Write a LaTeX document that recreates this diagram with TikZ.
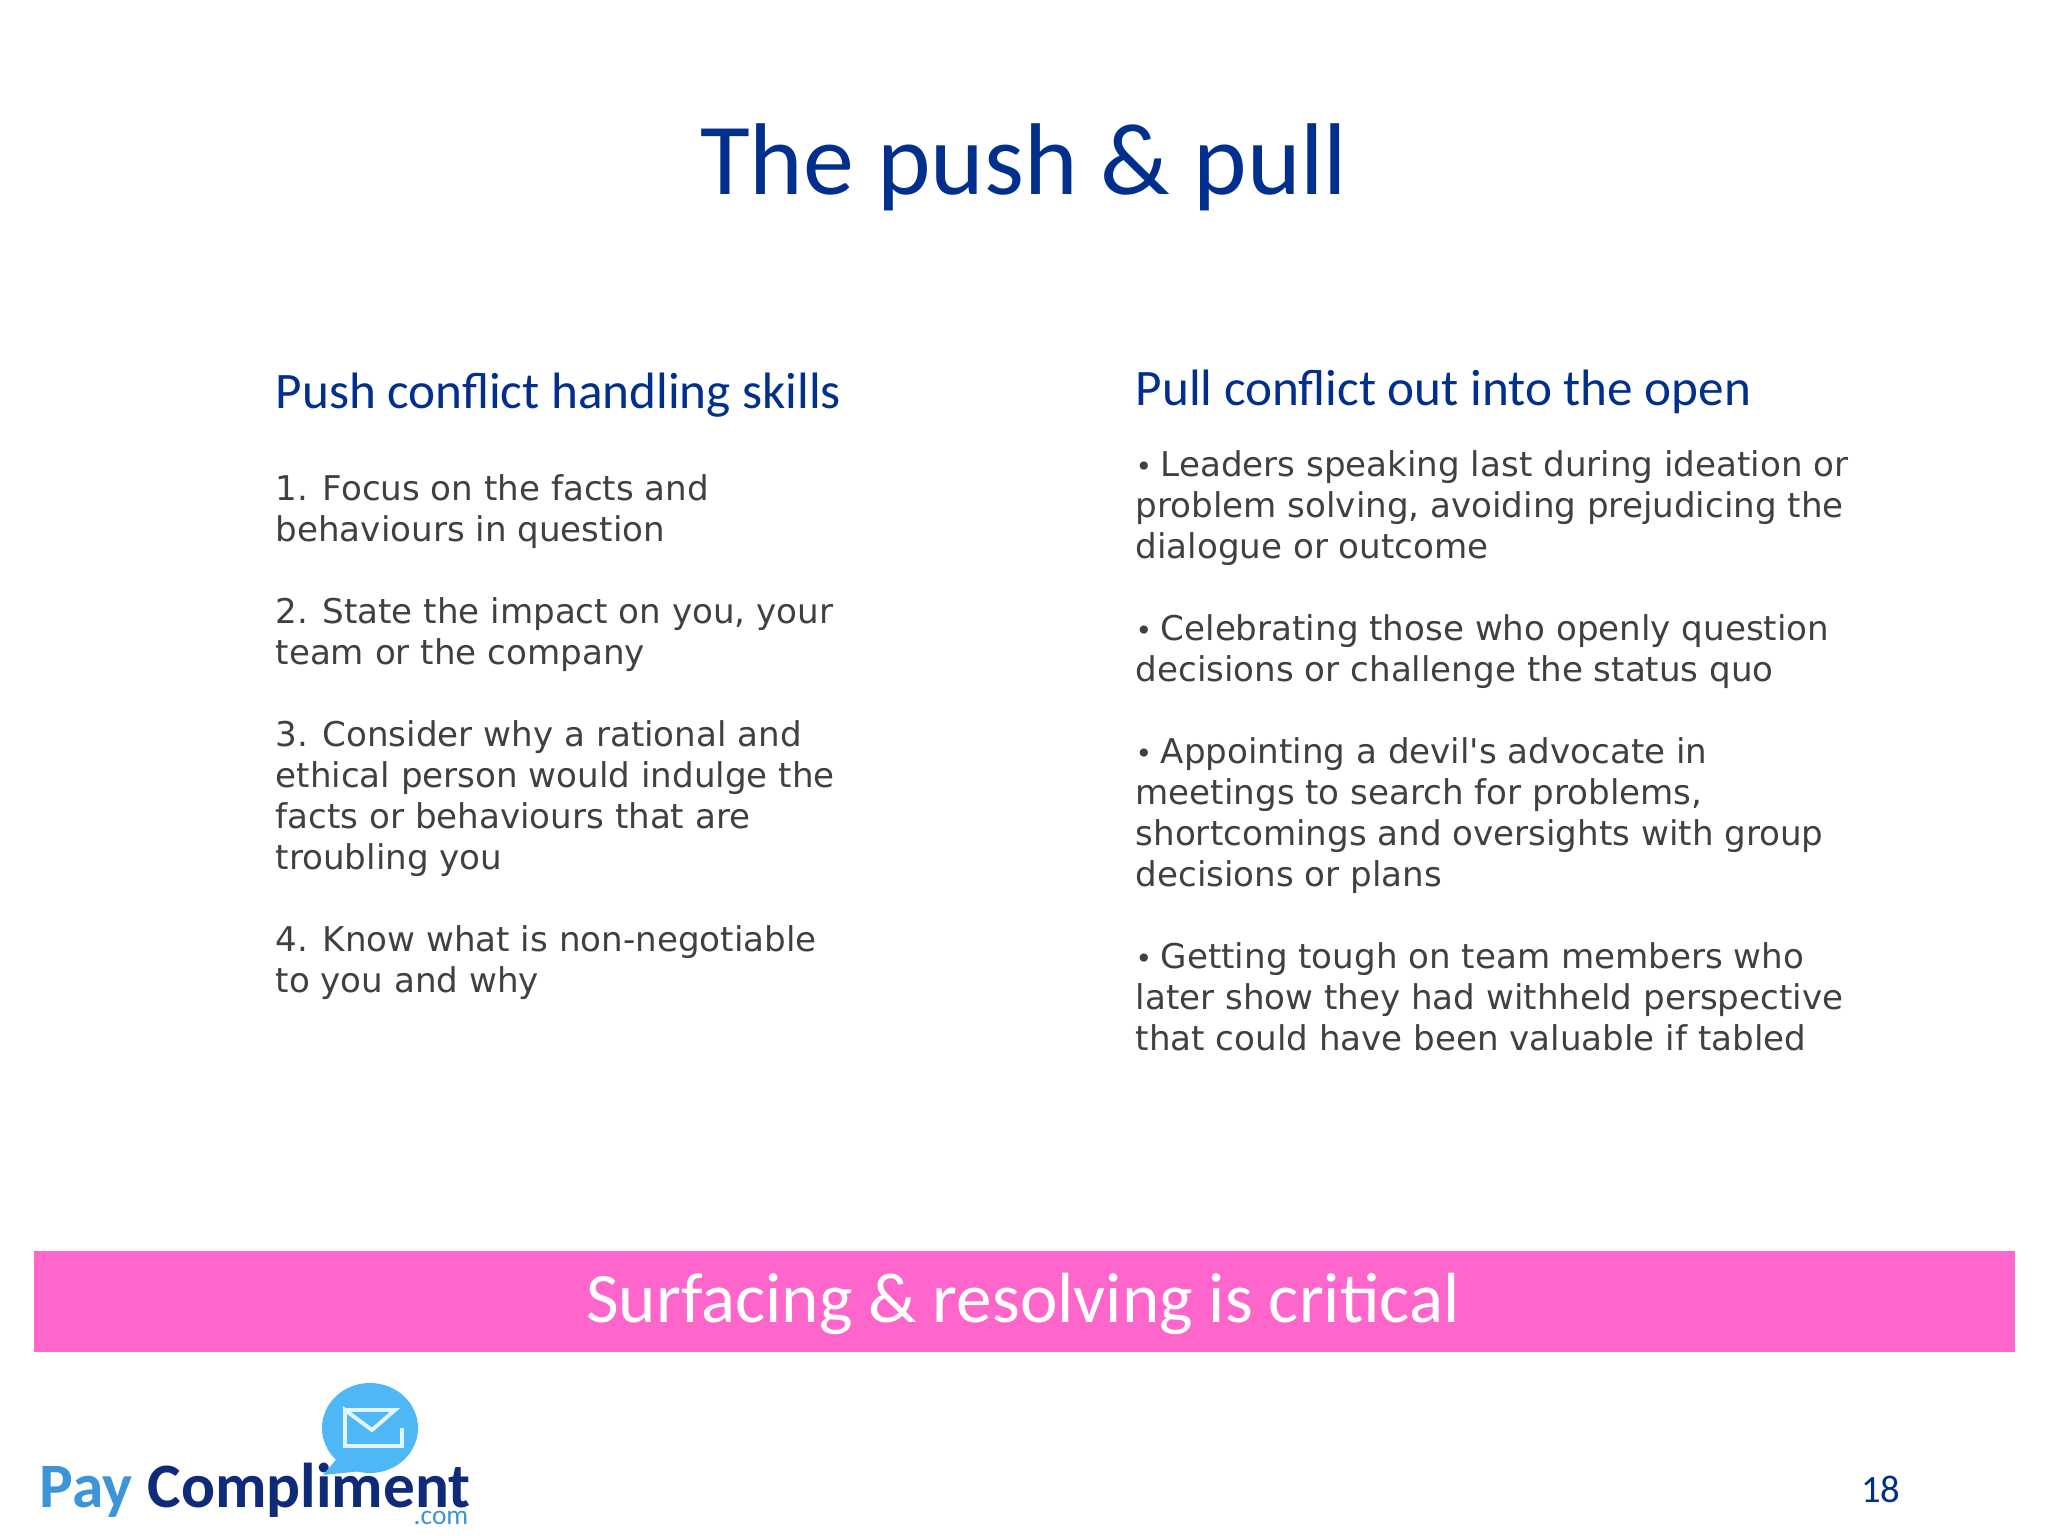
\documentclass[tikz,border=0pt]{standalone}
\usepackage{fontspec}
\setmainfont{Carlito}
\newfontfamily\bodyfont{DejaVu Sans}
\definecolor{titleblue}{HTML}{002F8E}
\definecolor{bodygrey}{HTML}{404040}
\definecolor{bannerpink}{HTML}{FF66CC}
\definecolor{logosky}{HTML}{4DB8F5}
\definecolor{logonavy}{HTML}{0F2A78}
\newcommand{\bulletmark}{{\fontsize{8}{8}\selectfont•}\kern2.4pt}
\tikzset{
	heading/.style={anchor=base west,inner sep=0pt,text=titleblue,font=\fontsize{14.55}{17}\selectfont},
	column/.style={anchor=north west,inner sep=0pt,align=left,text=bodygrey,font=\bodyfont\fontsize{9.7}{11.66}\selectfont},
}
\begin{document}
\begin{tikzpicture}[x=0.01cm,y=-0.01cm]
	\useasboundingbox (0,0) rectangle (2048,1536);
	\fill[color=white] (0,0) rectangle (2048,1536);
	\node[anchor=base,inner sep=0pt,text=titleblue,font=\fontsize{29}{33}\selectfont] (title) at (1024,194) {The push \& pull};
	\node[heading] (pushhead) at (275,408) {Push conflict handling skills};
	\node[heading] (pullhead) at (1135,405) {Pull conflict out into the open};
	\node[column] (pushlist) at (275,474) {1. Focus on the facts and\\behaviours in question\\[11.66pt]
		2. State the impact on you, your\\team or the company\\[11.66pt]
		3. Consider why a rational and\\ethical person would indulge the\\facts or behaviours that are\\troubling you\\[11.66pt]
		4. Know what is non-negotiable\\to you and why};
	\node[column] (pulllist) at (1135,450) {\bulletmark Leaders speaking last during ideation or\\problem solving, avoiding prejudicing the\\dialogue or outcome\\[11.66pt]
		\bulletmark Celebrating those who openly question\\decisions or challenge the status quo\\[11.66pt]
		\bulletmark Appointing a devil's advocate in\\meetings to search for problems,\\shortcomings and oversights with group\\decisions or plans\\[11.66pt]
		\bulletmark Getting tough on team members who\\later show they had withheld perspective\\that could have been valuable if tabled};
	% banner
	\fill[color=bannerpink] (34,1251) rectangle (2015,1352);
	\node[anchor=base,inner sep=0pt,text=white,font=\fontsize{20.2}{24}\selectfont] (banner) at (1023,1322) {Surfacing \& resolving is critical};
	\node[anchor=base east,inner sep=0pt,text=titleblue,font=\fontsize{11}{13}\selectfont] (page) at (1901,1502) {18};
	% logo
	\node[anchor=base west,inner sep=0pt,text=logosky!75!logonavy,font=\fontsize{18}{21}\bfseries\selectfont] (logopay) at (39,1507) {Pay};
	\node[anchor=base west,inner sep=0pt,text=logonavy,font=\fontsize{18}{21}\bfseries\selectfont] (logocomp) at (147,1507) {Compliment};
	\node[anchor=base west,inner sep=0pt,text=logosky!75!logonavy,font=\fontsize{7.8}{9}\selectfont] (logocom) at (413,1524) {.com};
	\fill[color=logosky] (370,1428) ellipse[x radius=48,y radius=45];
	\fill[color=logosky] (340,1455) -- (323,1475) -- (372,1470) -- cycle;
	\draw[color=white!85!logosky,line width=1.1pt] (345,1410) -- (395,1410) -- (372,1430) -- (345,1410) -- (345,1446) -- (402,1446) -- (402,1428);
\end{tikzpicture}
\end{document}
